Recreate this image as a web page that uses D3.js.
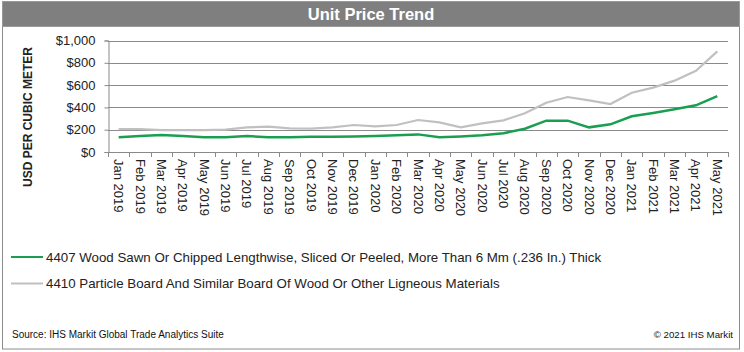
<!DOCTYPE html>
<html><head><meta charset="utf-8">
<script src="https://cdn.jsdelivr.net/npm/d3@7"></script>
<style>body{margin:0;background:#fff}svg{display:block;font-family:"Liberation Sans",Arial,sans-serif}</style>
</head><body><svg id="c" width="744" height="352"></svg>
<script>
const months = ["Jan 2019","Feb 2019","Mar 2019","Apr 2019","May 2019","Jun 2019","Jul 2019","Aug 2019","Sep 2019","Oct 2019","Nov 2019","Dec 2019",
"Jan 2020","Feb 2020","Mar 2020","Apr 2020","May 2020","Jun 2020","Jul 2020","Aug 2020","Sep 2020","Oct 2020","Nov 2020","Dec 2020",
"Jan 2021","Feb 2021","Mar 2021","Apr 2021","May 2021"];
const wood4407 = [132,143,152,143,132,132,143,132,132,137,137,140,143,150,158,132,140,150,168,209,281,281,221,248,320,350,383,419,502];
const board4410 = [206,205,197,197,197,200,221,227,212,209,221,242,230,242,287,266,221,257,284,347,442,493,463,430,532,577,640,729,903];
const yTicks = [0,200,400,600,800,1000];
const seriesNames = ["4407 Wood Sawn Or Chipped Lengthwise, Sliced Or Peeled, More Than 6 Mm (.236 In.) Thick",
"4410 Particle Board And Similar Board Of Wood Or Other Ligneous Materials"];
const seriesColors = ["#1a9f50","#c0c0c0"];
const titleText = "Unit Price Trend";
const yTitle = "USD PER CUBIC METER";
const sourceText = "Source: IHS Markit Global Trade Analytics Suite";
const copyText = "\u00a9 2021 IHS Markit";

const svg = d3.select("#c");
// frame
svg.append("rect").attr("x",2.5).attr("y",1.5).attr("width",737).attr("height",347.5).attr("fill","#fff").attr("stroke","#8c8c8c");
svg.append("rect").attr("x",2.5).attr("y",1.5).attr("width",737).attr("height",25).attr("fill","#7f7f7f").attr("stroke","#9a9a9a");
svg.append("text").attr("x",371).attr("y",20).attr("text-anchor","middle").attr("fill","#fff")
  .attr("font-size",16.5).attr("font-weight","bold").text(titleText);

const x = d3.scaleBand().domain(months).range([108,728]);
const y = d3.scaleLinear().domain([0,1000]).range([152,40.5]);

// gridlines
svg.append("g").selectAll("line").data(yTicks).join("line")
  .attr("x1",108).attr("x2",728).attr("y1",d=>Math.round(y(d))+0.5).attr("y2",d=>Math.round(y(d))+0.5)
  .attr("stroke","#8a8a8a").attr("stroke-width",1);

// y axis labels
const yAxis = d3.axisLeft(y).tickValues(yTicks).tickSize(4).tickPadding(9).tickFormat(d=>"$"+d3.format(",")(d));
const gy = svg.append("g").attr("transform","translate(108.5,0)").call(yAxis);
gy.select(".domain").attr("stroke","#8a8a8a");
gy.selectAll(".tick line").attr("stroke","#8a8a8a");
gy.selectAll("text").attr("font-size",13).attr("fill","#222").attr("font-family","Liberation Sans, Arial, sans-serif");

// x axis: ticks at boundaries
const bounds = months.map(m=>x(m)).concat([x.range()[1]]);
svg.append("g").selectAll("line").data(bounds).join("line")
  .attr("x1",d=>Math.round(d)+0.5).attr("x2",d=>Math.round(d)+0.5).attr("y1",152).attr("y2",157)
  .attr("stroke","#8a8a8a");
svg.append("g").selectAll("text").data(months).join("text")
  .attr("transform",d=>`translate(${x(d)+x.bandwidth()/2-4.5},159) rotate(90)`)
  .attr("font-size",13).attr("fill","#222").text(d=>d);

// y title
svg.append("text").attr("transform","translate(32,117) rotate(-90)").attr("text-anchor","middle")
  .attr("font-size",12).attr("font-weight","bold").attr("fill","#222").text(yTitle);

// lines
const line = d3.line().x((d,i)=>x(months[i])+x.bandwidth()/2).y(d=>y(d));
svg.append("path").datum(board4410).attr("d",line).attr("fill","none").attr("stroke",seriesColors[1]).attr("stroke-width",2.2);
svg.append("path").datum(wood4407).attr("d",line).attr("fill","none").attr("stroke",seriesColors[0]).attr("stroke-width",2.5);

// legend
const lg = svg.append("g");
seriesNames.forEach((n,i)=>{
  const yy = 257 + i*26.5;
  lg.append("line").attr("x1",11).attr("x2",43).attr("y1",yy).attr("y2",yy).attr("stroke",seriesColors[i]).attr("stroke-width",2);
  lg.append("text").attr("x",46).attr("y",yy+4.7).attr("font-size",13.3).attr("fill","#222").text(n);
});

svg.append("text").attr("x",12).attr("y",338).attr("font-size",10).attr("fill","#111").text(sourceText);
svg.append("text").attr("x",733).attr("y",338).attr("text-anchor","end").attr("font-size",9.7).attr("fill","#111").text(copyText);
</script></body></html>
